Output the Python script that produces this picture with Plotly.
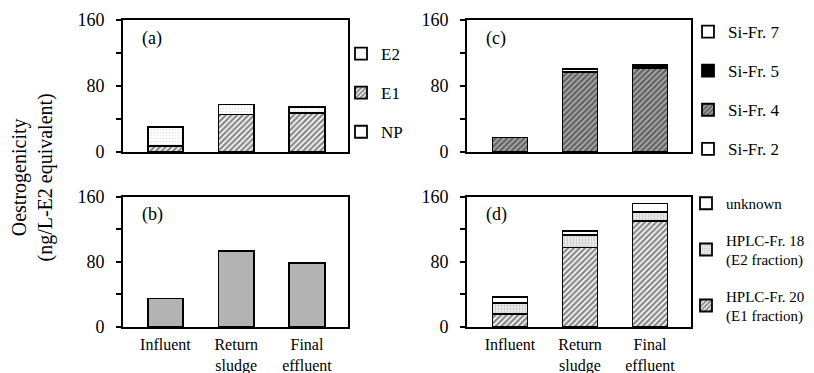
import plotly.graph_objects as go

# ---------------- data ----------------
categories = ["Influent", "Return<br>sludge", "Final<br>effluent"]
x_pos = [0, 1, 2]

# panel (a): identified compounds
a_np = [0.5, 0.5, 0.5]
a_e1 = [7, 45, 47]
a_e2 = [23, 12, 7]

# panel (b): total oestrogenicity
b_total = [35, 93, 78]

# panel (c): silica gel fractions
c_si2 = [0.5, 0.5, 0.5]
c_si4 = [17, 96, 101]
c_si5 = [None, 1, 3]
c_si7 = [None, 3, 1]

# panel (d): HPLC fractions
d_hplc20 = [16, 97.5, 129.5]
d_hplc18 = [13.5, 15, 11.5]
d_unknown = [7.5, 5.5, 10.5]

y_tickvals = [0, 40, 80, 120, 160]
y_ticktext = ["0", "", "80", "", "160"]

# ---------------- styling ----------------
W, H = 814, 373
FONT = "Liberation Serif, Times New Roman, serif"
LINE = dict(color="black", width=1.8)
BW = 0.5

hatch = dict(shape="/", fgcolor="#111111", bgcolor="white", size=4, solidity=0.6)
hatch_c = dict(shape="/", fgcolor="#111111", bgcolor="#b0b0b0", size=4, solidity=0.6)
dots_light = dict(shape=".", fgcolor="#c8c8c8", bgcolor="white", size=3, solidity=0.25)
dots_mid = dict(shape=".", fgcolor="#909090", bgcolor="#eeeeee", size=3, solidity=0.35)


def px_x(p):
    return p / W


def px_y(p):
    return 1 - p / H


fig = go.Figure()


def bar(xa, ya, y, name, rank, color="white", pattern=None, legend="legend", show=True):
    marker = dict(color=color, line=LINE)
    if pattern is not None:
        marker["pattern"] = pattern
    fig.add_trace(go.Bar(
        x=x_pos, y=y, name=name, width=BW, marker=marker,
        xaxis=xa, yaxis=ya, showlegend=show,
        legend=legend, legendgroup=name, legendrank=rank,
    ))


# (a)
bar("x", "y", a_np, "NP", 3)
bar("x", "y", a_e1, "E1", 2, pattern=hatch)
bar("x", "y", a_e2, "E2", 1, pattern=dots_light)
# (b)
bar("x2", "y2", b_total, "total", 1, color="#b3b3b3", show=False)
# (c)
bar("x3", "y3", c_si2, "Si-Fr. 2", 4, legend="legend2")
bar("x3", "y3", c_si4, "Si-Fr. 4", 3, pattern=hatch_c, legend="legend2")
bar("x3", "y3", c_si5, "Si-Fr. 5", 2, color="black", legend="legend2")
bar("x3", "y3", c_si7, "Si-Fr. 7", 1, legend="legend2")
# (d)
bar("x4", "y4", d_hplc20, "HPLC-Fr. 20<br>(E1 fraction)", 3, pattern=hatch, legend="legend3")
bar("x4", "y4", d_hplc18, "HPLC-Fr. 18<br>(E2 fraction)", 2, pattern=dots_mid, legend="legend3")
bar("x4", "y4", d_unknown, "unknown", 1, legend="legend3")

left_dom = [px_x(123), px_x(348)]
right_dom = [px_x(467), px_x(691)]
top_dom = [px_y(152), px_y(20)]
bot_dom = [px_y(327), px_y(196.5)]

xcommon = dict(showgrid=False, zeroline=False, showline=True, linecolor="black",
               linewidth=1.8, mirror=True, ticks="", tickvals=x_pos,
               ticklabelstandoff=2,
               tickfont=dict(family=FONT, size=16, color="black"))
ycommon = dict(showgrid=False, zeroline=False, showline=True, linecolor="black",
               linewidth=1.8, mirror=True, ticks="outside", ticklen=5, tickwidth=1.5,
               tickcolor="black", range=[0, 160], tickvals=y_tickvals,
               ticktext=y_ticktext, ticklabelstandoff=8,
               tickfont=dict(family=FONT, size=18, color="black"))

legcommon = dict(xanchor="left", yanchor="top", traceorder="grouped",
                 bgcolor="rgba(0,0,0,0)")

fig.update_layout(
    width=W, height=H, margin=dict(l=0, r=0, t=0, b=0, autoexpand=False),
    paper_bgcolor="white", plot_bgcolor="white", barmode="stack",
    font=dict(family=FONT, size=16, color="black"),
    xaxis=dict(xcommon, domain=left_dom, anchor="y", range=[-0.6, 2.58],
               ticktext=["", "", ""]),
    yaxis=dict(ycommon, domain=top_dom, anchor="x"),
    xaxis2=dict(xcommon, domain=left_dom, anchor="y2", range=[-0.6, 2.58],
                ticktext=categories),
    yaxis2=dict(ycommon, domain=bot_dom, anchor="x2"),
    xaxis3=dict(xcommon, domain=right_dom, anchor="y3", range=[-0.614, 2.586],
                ticktext=["", "", ""]),
    yaxis3=dict(ycommon, domain=top_dom, anchor="x3"),
    xaxis4=dict(xcommon, domain=right_dom, anchor="y4", range=[-0.614, 2.586],
                ticktext=categories),
    yaxis4=dict(ycommon, domain=bot_dom, anchor="x4"),
    legend=dict(legcommon, x=px_x(341), y=px_y(36), tracegroupgap=14,
                font=dict(family=FONT, size=17)),
    legend2=dict(legcommon, x=px_x(688), y=px_y(14), tracegroupgap=14,
                 font=dict(family=FONT, size=17)),
    legend3=dict(legcommon, x=px_x(686), y=px_y(187), tracegroupgap=14,
                 font=dict(family=FONT, size=15)),
    showlegend=True,
)

panel_labels = [("(a)", "x", "y"), ("(b)", "x2", "y2"), ("(c)", "x3", "y3"), ("(d)", "x4", "y4")]
for txt, xa, ya in panel_labels:
    fig.add_annotation(text=txt, xref=f"{xa} domain", yref=f"{ya} domain",
                       x=0.075, y=0.86, xanchor="left", yanchor="middle",
                       showarrow=False, font=dict(family=FONT, size=18, color="black"))

fig.add_annotation(text="Oestrogenicity<br>(ng/L-E2 equivalent)", textangle=-90,
                   xref="paper", yref="paper", x=px_x(31.5), y=px_y(178),
                   xanchor="center", yanchor="middle", showarrow=False,
                   font=dict(family=FONT, size=20, color="black"))

# remove the browser's default 8px page margin so the figure sits at the page origin
fig.write_html("out.html", config={"displayModeBar": False},
               post_script="document.body.style.margin='0';")
